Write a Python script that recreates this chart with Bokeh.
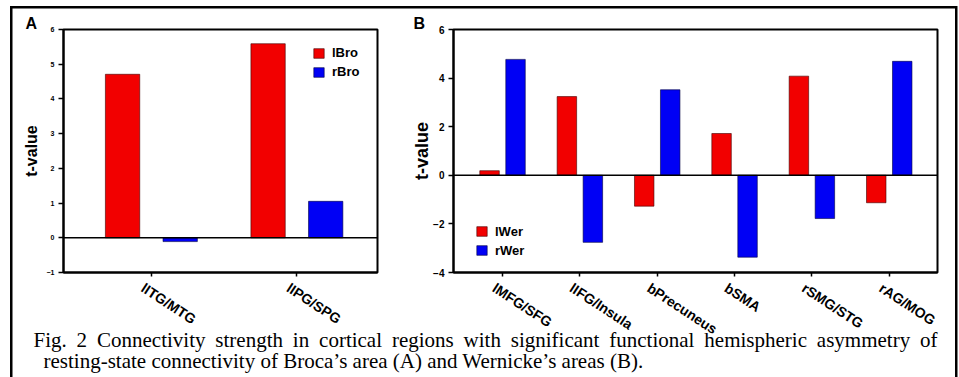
import numpy as np
from bokeh.plotting import figure
from bokeh.models import (Range1d, FixedTicker, Span, Legend, LegendItem, LinearAxis,
                          ColumnDataSource)
from bokeh.layouts import column, row
from bokeh.embed import file_html
from bokeh.resources import INLINE
from bokeh.core.properties import value

# ---------------- data ----------------
cats_A = ["lITG/MTG", "lIPG/SPG"]
lBro = [4.71, 5.59]
rBro = [-0.11, 1.05]
yticks_A = [-1, 0, 1, 2, 3, 4, 5, 6]

cats_B = ["lMFG/SFG", "lIFG/Insula", "bPrecuneus", "bSMA", "rSMG/STG", "rAG/MOG"]
lWer = [0.19, 3.24, -1.27, 1.72, 4.08, -1.13]
rWer = [4.77, -2.76, 3.52, -3.37, -1.78, 4.69]
yticks_B = [-4, -2, 0, 2, 4, 6]

caption_line1 = ("Fig. 2 Connectivity strength in cortical regions with significant "
                 "functional hemispheric asymmetry of")
caption_line2 = "resting-state connectivity of Broca\u2019s area (A) and Wernicke\u2019s areas (B)."

RED = "#f20000"
BLUE = "#0000f5"
SANS = "Liberation Sans"
SERIF = "Liberation Serif"

W_A, W_B, H_TOP, OVERLAP = 400, 559, 350, 28
H_CAP = 377 - (H_TOP - OVERLAP)
TOP, FRAME_H = 29, 243
CAP_Y0 = H_TOP - OVERLAP   # page y where the caption canvas starts
BASE_FIX = -7              # observed vertical offset of the caption text


def panel(cats, s1, s2, n1, n2, yr, yticks, xr, width, off, bw, bl, br,
          ytick_fs, leg_loc, letter, letter_off, ylab_fs, ylab_standoff, lab_shift):
    p = figure(width=width, height=H_TOP, x_range=Range1d(*xr), y_range=Range1d(*yr),
               output_backend="svg", toolbar_location=None,
               min_border_left=bl, min_border_right=br, min_border_top=TOP,
               min_border_bottom=H_TOP - TOP - FRAME_H)
    p.background_fill_color = "white"
    p.border_fill_alpha = 0
    p.outline_line_color = "black"
    p.outline_line_width = 2
    p.xgrid.visible = False
    p.ygrid.visible = False

    p.title.text = letter
    p.title.align = "left"
    p.title.offset = letter_off
    p.title.standoff = -5
    p.title.text_font = SANS
    p.title.text_font_style = "bold"
    p.title.text_font_size = "16px"
    p.title.text_color = "black"

    xs = np.arange(1, len(cats) + 1, dtype=float)
    src = ColumnDataSource(dict(x1=xs - off, x2=xs + off, s1=s1, s2=s2))
    r1 = p.vbar(x="x1", top="s1", bottom=0, width=bw, source=src,
                fill_color=RED, line_color="#400000", line_width=0.6)
    r2 = p.vbar(x="x2", top="s2", bottom=0, width=bw, source=src,
                fill_color=BLUE, line_color="#000040", line_width=0.6)
    p.add_layout(Span(location=0, dimension="width", line_color="black", line_width=1.6))

    ax = p.yaxis[0]
    ax.ticker = FixedTicker(ticks=yticks)
    ax.minor_tick_out = 0
    ax.minor_tick_in = 0
    ax.major_tick_in = 0
    ax.major_tick_out = 5
    ax.major_tick_line_width = 1.5
    ax.axis_line_width = 2
    ax.major_label_text_font = SANS
    ax.major_label_text_font_style = "bold"
    ax.major_label_text_font_size = ytick_fs
    ax.major_label_text_color = "black"
    ax.major_label_standoff = 4
    ax.axis_label = "t-value"
    ax.axis_label_text_font = SANS
    ax.axis_label_text_font_style = "bold"
    ax.axis_label_text_font_size = ylab_fs
    ax.axis_label_text_color = "black"
    ax.axis_label_standoff = ylab_standoff

    # x axis 1: line and tick marks only
    bx = p.xaxis[0]
    bx.ticker = FixedTicker(ticks=list(xs))
    bx.major_label_overrides = {float(x): "" for x in xs}
    bx.minor_tick_out = 0
    bx.minor_tick_in = 0
    bx.major_tick_in = 0
    bx.major_tick_out = 4
    bx.major_tick_line_width = 1.5
    bx.axis_line_width = 2
    bx.major_label_standoff = 0
    bx.major_label_text_font_size = "1px"

    # x axis 2: the slanted category labels
    lx = [float(x - lab_shift) for x in xs]
    ax2 = LinearAxis(ticker=FixedTicker(ticks=lx),
                     major_label_overrides={x: c for x, c in zip(lx, cats)},
                     axis_line_color=None, major_tick_line_color=None,
                     minor_tick_line_color=None, major_label_orientation=-0.58,
                     major_label_text_font=SANS, major_label_text_font_style="bold",
                     major_label_text_font_size="14px", major_label_text_color="black",
                     major_label_standoff=4)
    p.add_layout(ax2, "below")

    leg = Legend(items=[LegendItem(label=n1, renderers=[r1]),
                        LegendItem(label=n2, renderers=[r2])],
                 location=leg_loc, glyph_width=13, glyph_height=12, label_height=15,
                 label_standoff=7, spacing=4, padding=0, margin=0,
                 border_line_color=None, background_fill_alpha=0,
                 label_text_font=SANS, label_text_font_style="bold",
                 label_text_font_size="13px", label_text_color="black")
    p.add_layout(leg)
    return p


pA = panel(cats_A, lBro, rBro, "lBro", "rBro", (-1, 6), yticks_A, (0.396, 2.554),
           W_A, 0.198, 0.236, 63, 23, "7px", (249, 193), "A", -38, "16px", 4, 0.06)
pB = panel(cats_B, lWer, rWer, "lWer", "rWer", (-4, 6), yticks_B, (0.366, 6.624),
           W_B, 0.168, 0.252, 53, 22, "10px", (22, 14.5), "B", -40, "18px", -2, 0.11)

# ---------------- caption ----------------
WT = W_A + W_B
pc = figure(width=WT, height=H_CAP, x_range=Range1d(0, WT),
            y_range=Range1d(H_CAP, 0), output_backend="svg", toolbar_location=None,
            x_axis_type=None, y_axis_type=None, min_border=0, title_location=None,
            margin=(-OVERLAP, 0, 0, 0))
pc.outline_line_color = None
pc.xgrid.visible = False
pc.ygrid.visible = False
pc.background_fill_alpha = 0
pc.border_fill_alpha = 0

# Times-compatible advance widths (1/1000 em) to justify the first caption line
TW = {" ": 250, "F": 556, "i": 278, "g": 500, ".": 250, "2": 500, "C": 667, "o": 500,
      "n": 500, "e": 444, "c": 444, "t": 278, "v": 500, "y": 500, "s": 389, "r": 333,
      "h": 500, "l": 278, "a": 444, "w": 722, "f": 333, "u": 500, "m": 778, "p": 500}
FS = 21
x0, x1 = 33.0, 937.0
words = caption_line1.split(" ")
ww = [sum(TW.get(ch, 500) for ch in w) / 1000 * FS for w in words]
gap = (x1 - x0 - sum(ww)) / (len(words) - 1)
wx = []
cur = x0
for w_ in ww:
    wx.append(cur)
    cur += w_ + gap
pc.text(x=wx, y=[346 - CAP_Y0 + BASE_FIX] * len(words), text=words, text_font=value(SERIF),
        text_font_size=f"{FS}px", text_baseline="alphabetic", text_align="left",
        text_color="black")
pc.text(x=[43], y=[367 - CAP_Y0 + BASE_FIX], text=[caption_line2], text_font=value(SERIF),
        text_font_size=f"{FS}px", text_baseline="alphabetic", text_align="left",
        text_color="black")

# thin box around the figure (left, top and right edges), drawn as inset shadows
frame_css = ", ".join([
    "inset 0 6px 0 0 #ffffff",
    "inset 10px 0 0 0 #ffffff",
    "inset -1.5px 0 0 0 #ffffff",
    "inset 0 8.5px 0 0 #000000",
    "inset 12.5px 0 0 0 #000000",
    "inset -4px 0 0 0 #000000",
])
layout = column(row(pA, pB), pc, styles={"box-shadow": frame_css, "background-color": "#ffffff"})
open("out.html", "w").write(file_html(layout, INLINE))
